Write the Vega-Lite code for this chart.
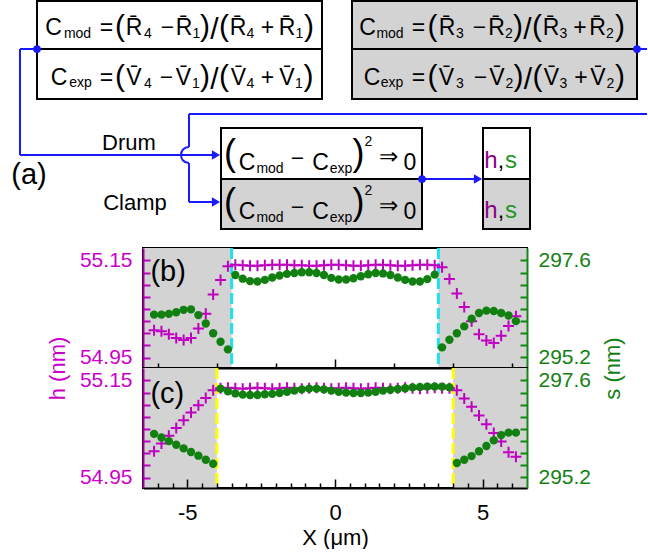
{
"$schema": "https://vega.github.io/schema/vega-lite/v6.json",
"padding": 0,
"background": "white",
"spacing": 0,
"bounds": "flush",
"datasets": {
"canvas": [{"x": 0, "x2": 648, "y": 0, "y2": 248}],
"boxes": [
{"x": 37, "x2": 322, "y": 1, "y2": 49, "medium": "Drum"},
{"x": 37, "x2": 322, "y": 49, "y2": 99, "medium": "Drum"},
{"x": 352, "x2": 637, "y": 1, "y2": 49, "medium": "Clamp"},
{"x": 352, "x2": 637, "y": 49, "y2": 99, "medium": "Clamp"},
{"x": 221, "x2": 422, "y": 128, "y2": 179, "medium": "Drum"},
{"x": 221, "x2": 422, "y": 179, "y2": 229, "medium": "Clamp"},
{"x": 483, "x2": 530, "y": 128, "y2": 179, "medium": "Drum"},
{"x": 483, "x2": 530, "y": 179, "y2": 229, "medium": "Clamp"}
],
"wires": [
{"x": 37, "y": 49, "x2": 20, "y2": 49},
{"x": 20, "y": 49, "x2": 20, "y2": 155},
{"x": 20, "y": 155, "x2": 214, "y2": 155},
{"x": 189, "y": 114, "x2": 189, "y2": 147},
{"x": 189, "y": 163, "x2": 189, "y2": 202},
{"x": 189, "y": 202, "x2": 214, "y2": 202},
{"x": 189, "y": 114, "x2": 647, "y2": 114},
{"x": 637, "y": 49, "x2": 647, "y2": 49},
{"x": 422, "y": 179, "x2": 476, "y2": 179}
],
"hops": [{"x": 189, "y": 155}],
"arrows": [{"x": 216, "y": 155}, {"x": 216, "y": 202}, {"x": 478, "y": 179}],
"joints": [{"x": 37, "y": 49}, {"x": 637, "y": 49}, {"x": 422, "y": 179}],
"tokens": [
{"role": "main", "x": 53.5, "y": 35, "t": "C"},
{"role": "sub", "x": 77.5, "y": 38, "t": "mod"},
{"role": "main", "x": 106.5, "y": 35, "t": "="},
{"role": "paren", "x": 120, "y": 36, "t": "("},
{"role": "main", "x": 134, "y": 35, "t": "R\u0304"},
{"role": "sub", "x": 148, "y": 38, "t": "4"},
{"role": "main", "x": 167.5, "y": 35, "t": "\u2212"},
{"role": "main", "x": 184, "y": 35, "t": "R\u0304"},
{"role": "sub", "x": 196.5, "y": 38, "t": "1"},
{"role": "paren", "x": 205, "y": 36, "t": ")"},
{"role": "slash", "x": 214.5, "y": 39, "t": "/"},
{"role": "paren", "x": 224, "y": 36, "t": "("},
{"role": "main", "x": 238, "y": 35, "t": "R\u0304"},
{"role": "sub", "x": 250.5, "y": 38, "t": "4"},
{"role": "main", "x": 267.5, "y": 35, "t": "+"},
{"role": "main", "x": 287, "y": 35, "t": "R\u0304"},
{"role": "sub", "x": 299.5, "y": 38, "t": "1"},
{"role": "paren", "x": 309, "y": 36, "t": ")"},
{"role": "main", "x": 59, "y": 85, "t": "C"},
{"role": "sub", "x": 80.5, "y": 87, "t": "exp"},
{"role": "main", "x": 106.5, "y": 85, "t": "="},
{"role": "paren", "x": 120, "y": 86, "t": "("},
{"role": "main", "x": 134, "y": 85, "t": "V\u0304"},
{"role": "sub", "x": 148, "y": 88, "t": "4"},
{"role": "main", "x": 166.5, "y": 85, "t": "\u2212"},
{"role": "main", "x": 183.5, "y": 85, "t": "V\u0304"},
{"role": "sub", "x": 196, "y": 88, "t": "1"},
{"role": "paren", "x": 205, "y": 86, "t": ")"},
{"role": "slash", "x": 214.5, "y": 89, "t": "/"},
{"role": "paren", "x": 224, "y": 86, "t": "("},
{"role": "main", "x": 238.5, "y": 85, "t": "V\u0304"},
{"role": "sub", "x": 250.5, "y": 88, "t": "4"},
{"role": "main", "x": 267.5, "y": 85, "t": "+"},
{"role": "main", "x": 287, "y": 85, "t": "V\u0304"},
{"role": "sub", "x": 299, "y": 88, "t": "1"},
{"role": "paren", "x": 308.5, "y": 86, "t": ")"},
{"role": "main", "x": 367.5, "y": 35, "t": "C"},
{"role": "sub", "x": 390, "y": 38, "t": "mod"},
{"role": "main", "x": 418.5, "y": 35, "t": "="},
{"role": "paren", "x": 432.5, "y": 36, "t": "("},
{"role": "main", "x": 447, "y": 35, "t": "R\u0304"},
{"role": "sub", "x": 460, "y": 38, "t": "3"},
{"role": "main", "x": 479.5, "y": 35, "t": "\u2212"},
{"role": "main", "x": 496.5, "y": 35, "t": "R\u0304"},
{"role": "sub", "x": 509, "y": 38, "t": "2"},
{"role": "paren", "x": 518, "y": 36, "t": ")"},
{"role": "slash", "x": 527.5, "y": 39, "t": "/"},
{"role": "paren", "x": 537, "y": 36, "t": "("},
{"role": "main", "x": 551, "y": 35, "t": "R\u0304"},
{"role": "sub", "x": 563.5, "y": 38, "t": "3"},
{"role": "main", "x": 580, "y": 35, "t": "+"},
{"role": "main", "x": 597.5, "y": 35, "t": "R\u0304"},
{"role": "sub", "x": 610, "y": 38, "t": "2"},
{"role": "paren", "x": 620, "y": 36, "t": ")"},
{"role": "main", "x": 372, "y": 85, "t": "C"},
{"role": "sub", "x": 392, "y": 87, "t": "exp"},
{"role": "main", "x": 418.5, "y": 85, "t": "="},
{"role": "paren", "x": 432.5, "y": 86, "t": "("},
{"role": "main", "x": 446.5, "y": 85, "t": "V\u0304"},
{"role": "sub", "x": 460, "y": 88, "t": "3"},
{"role": "main", "x": 480.5, "y": 85, "t": "\u2212"},
{"role": "main", "x": 497, "y": 85, "t": "V\u0304"},
{"role": "sub", "x": 509.5, "y": 88, "t": "2"},
{"role": "paren", "x": 518.5, "y": 86, "t": ")"},
{"role": "slash", "x": 528, "y": 89, "t": "/"},
{"role": "paren", "x": 537.5, "y": 86, "t": "("},
{"role": "main", "x": 551.5, "y": 85, "t": "V\u0304"},
{"role": "sub", "x": 563.5, "y": 88, "t": "3"},
{"role": "main", "x": 581, "y": 85, "t": "+"},
{"role": "main", "x": 598, "y": 85, "t": "V\u0304"},
{"role": "sub", "x": 610.5, "y": 88, "t": "2"},
{"role": "paren", "x": 620, "y": 86, "t": ")"},
{"role": "bigparen", "x": 230, "y": 165, "t": "("},
{"role": "main", "x": 247, "y": 170, "t": "C"},
{"role": "sub", "x": 270, "y": 173, "t": "mod"},
{"role": "main", "x": 297.5, "y": 166, "t": "\u2212"},
{"role": "main", "x": 320.5, "y": 170, "t": "C"},
{"role": "sub", "x": 341, "y": 173, "t": "exp"},
{"role": "bigparen", "x": 358.5, "y": 165, "t": ")"},
{"role": "sub", "x": 368.5, "y": 146, "t": "2"},
{"role": "main", "x": 388, "y": 164, "t": "\u21d2"},
{"role": "main", "x": 410, "y": 170, "t": "0"},
{"role": "bigparen", "x": 230, "y": 214, "t": "("},
{"role": "main", "x": 247, "y": 219, "t": "C"},
{"role": "sub", "x": 270, "y": 222, "t": "mod"},
{"role": "main", "x": 297.5, "y": 215, "t": "\u2212"},
{"role": "main", "x": 320.5, "y": 219, "t": "C"},
{"role": "sub", "x": 341, "y": 222, "t": "exp"},
{"role": "bigparen", "x": 358.5, "y": 214, "t": ")"},
{"role": "sub", "x": 368.5, "y": 195, "t": "2"},
{"role": "main", "x": 388, "y": 213, "t": "\u21d2"},
{"role": "main", "x": 410, "y": 219, "t": "0"},
{"role": "h", "x": 491, "y": 168, "t": "h"},
{"role": "main", "x": 501, "y": 168, "t": ","},
{"role": "s", "x": 511, "y": 168, "t": "s"},
{"role": "h", "x": 491, "y": 218, "t": "h"},
{"role": "main", "x": 501, "y": 218, "t": ","},
{"role": "s", "x": 511, "y": 218, "t": "s"},
{"role": "label", "x": 129, "y": 150, "t": "Drum"},
{"role": "label", "x": 135, "y": 210, "t": "Clamp"},
{"role": "panel", "x": 29, "y": 184, "t": "(a)"}
],
"shadeB": [{"x1": -6.5, "x2": -3.5}, {"x1": 3.5, "x2": 6.5}],
"shadeC": [{"x1": -6.5, "x2": -4}, {"x1": 4, "x2": 6.5}],
"edgesB": [{"x": -3.5}, {"x": 3.5}],
"edgesC": [{"x": -4}, {"x": 4}],
"tagB": [{"X": -6.25, "h": 55.126, "label": "(b)"}],
"tagC": [{"X": -6.25, "h": 55.123, "label": "(c)"}],
"panelB": [
{"X": -6.125, "h": 55.006, "s": 296.26},
{"X": -5.875, "h": 55.004, "s": 296.26},
{"X": -5.625, "h": 54.998, "s": 296.28},
{"X": -5.375, "h": 54.990, "s": 296.32},
{"X": -5.125, "h": 54.986, "s": 296.38},
{"X": -4.875, "h": 54.990, "s": 296.39},
{"X": -4.625, "h": 55.010, "s": 296.25},
{"X": -4.375, "h": 55.040, "s": 296.04},
{"X": -4.125, "h": 55.080, "s": 295.80},
{"X": -3.875, "h": 55.110, "s": 295.59},
{"X": -3.625, "h": 55.138, "s": 295.40},
{"X": -3.375, "h": 55.141, "s": 297.24},
{"X": -3.125, "h": 55.140, "s": 297.15},
{"X": -2.875, "h": 55.139, "s": 297.09},
{"X": -2.625, "h": 55.139, "s": 297.08},
{"X": -2.375, "h": 55.140, "s": 297.12},
{"X": -2.125, "h": 55.141, "s": 297.18},
{"X": -1.875, "h": 55.141, "s": 297.23},
{"X": -1.625, "h": 55.141, "s": 297.27},
{"X": -1.375, "h": 55.140, "s": 297.29},
{"X": -1.125, "h": 55.140, "s": 297.31},
{"X": -0.875, "h": 55.139, "s": 297.31},
{"X": -0.625, "h": 55.139, "s": 297.29},
{"X": -0.375, "h": 55.140, "s": 297.24},
{"X": -0.125, "h": 55.141, "s": 297.17},
{"X": 0.125, "h": 55.141, "s": 297.13},
{"X": 0.375, "h": 55.140, "s": 297.13},
{"X": 0.625, "h": 55.139, "s": 297.16},
{"X": 0.875, "h": 55.139, "s": 297.21},
{"X": 1.125, "h": 55.140, "s": 297.26},
{"X": 1.375, "h": 55.141, "s": 297.29},
{"X": 1.625, "h": 55.141, "s": 297.28},
{"X": 1.875, "h": 55.140, "s": 297.24},
{"X": 2.125, "h": 55.139, "s": 297.18},
{"X": 2.375, "h": 55.139, "s": 297.12},
{"X": 2.625, "h": 55.140, "s": 297.08},
{"X": 2.875, "h": 55.141, "s": 297.08},
{"X": 3.125, "h": 55.141, "s": 297.14},
{"X": 3.375, "h": 55.140, "s": 297.25},
{"X": 3.625, "h": 55.136, "s": 295.45},
{"X": 3.875, "h": 55.112, "s": 295.64},
{"X": 4.125, "h": 55.082, "s": 295.80},
{"X": 4.375, "h": 55.054, "s": 295.97},
{"X": 4.625, "h": 55.025, "s": 296.16},
{"X": 4.875, "h": 54.998, "s": 296.30},
{"X": 5.125, "h": 54.985, "s": 296.36},
{"X": 5.375, "h": 54.980, "s": 296.35},
{"X": 5.625, "h": 54.995, "s": 296.30},
{"X": 5.875, "h": 55.015, "s": 296.24},
{"X": 6.125, "h": 55.035, "s": 296.10}
],
"panelC": [
{"X": -6.125, "h": 55.004, "s": 296.28},
{"X": -5.875, "h": 55.020, "s": 296.19},
{"X": -5.625, "h": 55.036, "s": 296.10},
{"X": -5.375, "h": 55.052, "s": 296.01},
{"X": -5.125, "h": 55.068, "s": 295.92},
{"X": -4.875, "h": 55.084, "s": 295.83},
{"X": -4.625, "h": 55.099, "s": 295.74},
{"X": -4.375, "h": 55.114, "s": 295.64},
{"X": -4.125, "h": 55.130, "s": 295.54},
{"X": -3.875, "h": 55.134, "s": 297.40},
{"X": -3.625, "h": 55.135, "s": 297.33},
{"X": -3.375, "h": 55.134, "s": 297.28},
{"X": -3.125, "h": 55.133, "s": 297.25},
{"X": -2.875, "h": 55.134, "s": 297.24},
{"X": -2.625, "h": 55.135, "s": 297.24},
{"X": -2.375, "h": 55.134, "s": 297.26},
{"X": -2.125, "h": 55.133, "s": 297.27},
{"X": -1.875, "h": 55.134, "s": 297.29},
{"X": -1.625, "h": 55.135, "s": 297.32},
{"X": -1.375, "h": 55.134, "s": 297.35},
{"X": -1.125, "h": 55.133, "s": 297.38},
{"X": -0.875, "h": 55.134, "s": 297.40},
{"X": -0.625, "h": 55.135, "s": 297.40},
{"X": -0.375, "h": 55.134, "s": 297.38},
{"X": -0.125, "h": 55.133, "s": 297.35},
{"X": 0.125, "h": 55.134, "s": 297.32},
{"X": 0.375, "h": 55.135, "s": 297.30},
{"X": 0.625, "h": 55.134, "s": 297.29},
{"X": 0.875, "h": 55.133, "s": 297.29},
{"X": 1.125, "h": 55.134, "s": 297.30},
{"X": 1.375, "h": 55.135, "s": 297.32},
{"X": 1.625, "h": 55.134, "s": 297.35},
{"X": 1.875, "h": 55.133, "s": 297.37},
{"X": 2.125, "h": 55.134, "s": 297.39},
{"X": 2.375, "h": 55.135, "s": 297.41},
{"X": 2.625, "h": 55.134, "s": 297.43},
{"X": 2.875, "h": 55.133, "s": 297.44},
{"X": 3.125, "h": 55.134, "s": 297.45},
{"X": 3.375, "h": 55.135, "s": 297.45},
{"X": 3.625, "h": 55.134, "s": 297.45},
{"X": 3.875, "h": 55.134, "s": 297.43},
{"X": 4.125, "h": 55.130, "s": 295.56},
{"X": 4.375, "h": 55.113, "s": 295.64},
{"X": 4.625, "h": 55.096, "s": 295.73},
{"X": 4.875, "h": 55.078, "s": 295.85},
{"X": 5.125, "h": 55.060, "s": 295.98},
{"X": 5.375, "h": 55.042, "s": 296.12},
{"X": 5.625, "h": 55.024, "s": 296.25},
{"X": 5.875, "h": 55.002, "s": 296.31},
{"X": 6.125, "h": 54.993, "s": 296.31}
]
},
"vconcat": [
{
"width": 384, "height": 248,
"view": {"stroke": null},
"encoding": {
"x": {"field": "x", "type": "quantitative", "scale": {"domain": [143, 527], "nice": false, "zero": false}, "axis": null},
"y": {"field": "y", "type": "quantitative", "scale": {"domain": [0, 248], "reverse": true, "nice": false, "zero": false}, "axis": null}
},
"layer": [
{"data": {"name": "canvas"}, "mark": {"type": "rect", "fill": "white", "strokeWidth": 0}, "encoding": {"x2": {"field": "x2"}, "y2": {"field": "y2"}}},
{"data": {"name": "boxes"}, "mark": {"type": "rect", "stroke": "black", "strokeWidth": 2}, "encoding": {"x2": {"field": "x2"}, "y2": {"field": "y2"}, "fill": {"field": "medium", "type": "nominal", "scale": {"domain": ["Drum", "Clamp"], "range": ["white", "#d3d3d3"]}, "legend": null}}},
{"data": {"name": "wires"}, "mark": {"type": "rule", "color": "#1a1aff", "strokeWidth": 2}, "encoding": {"x2": {"field": "x2"}, "y2": {"field": "y2"}}},
{"data": {"name": "hops"}, "mark": {"type": "point", "shape": "M0,-1C-1.33,-1,-1.33,1,0,1", "filled": false, "stroke": "#1a1aff", "strokeWidth": 2, "size": 256, "opacity": 1}},
{"data": {"name": "arrows"}, "mark": {"type": "point", "shape": "triangle-right", "filled": true, "color": "#1a1aff", "size": 90, "opacity": 1}},
{"data": {"name": "joints"}, "mark": {"type": "circle", "color": "#1a1aff", "size": 60, "opacity": 1}},
{"data": {"name": "tokens"}, "transform": [{"filter": "datum.role === 'main'"}], "mark": {"type": "text", "font": "Liberation Sans", "fontSize": 23, "align": "center", "baseline": "alphabetic", "color": "black"}, "encoding": {"text": {"field": "t"}}},
{"data": {"name": "tokens"}, "transform": [{"filter": "datum.role === 'sub'"}], "mark": {"type": "text", "font": "Liberation Sans", "fontSize": 14, "align": "center", "baseline": "alphabetic", "color": "black"}, "encoding": {"text": {"field": "t"}}},
{"data": {"name": "tokens"}, "transform": [{"filter": "datum.role === 'paren'"}], "mark": {"type": "text", "font": "Liberation Sans", "fontSize": 30, "align": "center", "baseline": "alphabetic", "color": "black"}, "encoding": {"text": {"field": "t"}}},
{"data": {"name": "tokens"}, "transform": [{"filter": "datum.role === 'bigparen'"}], "mark": {"type": "text", "font": "Liberation Sans", "fontSize": 36, "align": "center", "baseline": "alphabetic", "color": "black"}, "encoding": {"text": {"field": "t"}}},
{"data": {"name": "tokens"}, "transform": [{"filter": "datum.role === 'slash'"}], "mark": {"type": "text", "font": "Liberation Sans", "fontSize": 30, "align": "center", "baseline": "alphabetic", "color": "black"}, "encoding": {"text": {"field": "t"}}},
{"data": {"name": "tokens"}, "transform": [{"filter": "datum.role === 'h'"}], "mark": {"type": "text", "font": "Liberation Sans", "fontSize": 24, "align": "center", "baseline": "alphabetic", "color": "#8b008b"}, "encoding": {"text": {"field": "t"}}},
{"data": {"name": "tokens"}, "transform": [{"filter": "datum.role === 's'"}], "mark": {"type": "text", "font": "Liberation Sans", "fontSize": 24, "align": "center", "baseline": "alphabetic", "color": "#1e961e"}, "encoding": {"text": {"field": "t"}}},
{"data": {"name": "tokens"}, "transform": [{"filter": "datum.role === 'label'"}], "mark": {"type": "text", "font": "Liberation Sans", "fontSize": 22, "align": "center", "baseline": "alphabetic", "color": "black"}, "encoding": {"text": {"field": "t"}}},
{"data": {"name": "tokens"}, "transform": [{"filter": "datum.role === 'panel'"}], "mark": {"type": "text", "font": "Liberation Sans", "fontSize": 29, "align": "center", "baseline": "alphabetic", "color": "black"}, "encoding": {"text": {"field": "t"}}}
]
},
{
"width": 384, "height": 120,
"layer": [
{"data": {"name": "shadeB"}, "mark": {"type": "rect", "color": "#d3d3d3"}, "encoding": {
"x": {"field": "x1", "type": "quantitative", "scale": {"domain": [-6.5, 6.5], "nice": false, "zero": false},
"axis": {"orient": "bottom", "zindex": 2, "values": [-6, -5.5, -5, -4.5, -4, -3.5, -3, -2.5, -2, -1.5, -1, -0.5, 0, 0.5, 1, 1.5, 2, 2.5, 3, 3.5, 4, 4.5, 5, 5.5, 6], "labels": false, "title": null, "tickSize": {"condition": {"test": "datum.value % 5 === 0", "value": -9}, "value": -5}, "tickColor": "black", "tickWidth": 1.5, "domainColor": "black", "domainWidth": 2, "grid": false}},
"x2": {"field": "x2"}}},
{"data": {"name": "edgesB"}, "mark": {"type": "rule", "color": "#20e0f0", "strokeWidth": 3, "strokeDash": [11, 4]}, "encoding": {"x": {"field": "x", "type": "quantitative"}}},
{"data": {"name": "panelB"}, "mark": {"type": "point", "shape": "M-1,0H1M0,-1V1", "filled": false, "stroke": "#c000c0", "strokeWidth": 2, "size": 121, "opacity": 1}, "encoding": {
"x": {"field": "X", "type": "quantitative"},
"y": {"field": "h", "type": "quantitative", "scale": {"domain": [54.928351, 55.175773], "nice": false, "zero": false},
"axis": {"orient": "left", "zindex": 2, "values": [54.95, 54.975, 55, 55.025, 55.05, 55.075, 55.1, 55.125, 55.15], "labelExpr": "abs(datum.value-55.15)<0.001 || abs(datum.value-54.95)<0.001 ? format(datum.value, '.2f') : ''", "labelOverlap": false, "tickSize": -7, "tickColor": "#c000c0", "tickWidth": 2, "domainColor": "#a000a0", "domainWidth": 2, "labelColor": "#cc00cc", "labelFontSize": 21, "labelPadding": 18, "title": "h (nm)", "titleColor": "#cc00cc", "titleFontSize": 22, "titleX": -86, "titleY": 120, "titleAngle": -90, "titleAlign": "center", "titleBaseline": "middle", "grid": false}}}},
{"data": {"name": "panelB"}, "mark": {"type": "circle", "color": "#118011", "size": 70, "opacity": 1}, "encoding": {
"x": {"field": "X", "type": "quantitative"},
"y": {"field": "s", "type": "quantitative", "scale": {"domain": [294.940206, 297.909278], "nice": false, "zero": false},
"axis": {"orient": "right", "zindex": 2, "values": [295.2, 295.5, 295.8, 296.1, 296.4, 296.7, 297.0, 297.3, 297.6], "labelExpr": "abs(datum.value-297.6)<0.01 || abs(datum.value-295.2)<0.01 ? format(datum.value, '.1f') : ''", "labelOverlap": false, "tickSize": -7, "tickColor": "#118811", "tickWidth": 2, "domainColor": "#118811", "domainWidth": 2, "labelColor": "#148014", "labelFontSize": 21, "labelPadding": 18, "title": "s (nm)", "titleColor": "#148014", "titleFontSize": 22, "titleX": 85, "titleY": 120, "titleAngle": -90, "titleAlign": "center", "titleBaseline": "middle", "grid": false}}}},
{"data": {"name": "tagB"}, "mark": {"type": "text", "fontSize": 29, "align": "left", "baseline": "middle", "color": "black"}, "encoding": {
"x": {"field": "X", "type": "quantitative"},
"y": {"field": "h", "type": "quantitative", "scale": {"domain": [54.928351, 55.175773], "nice": false, "zero": false}, "axis": null},
"text": {"field": "label"}}}
],
"resolve": {"scale": {"y": "independent"}}
},
{
"width": 384, "height": 120,
"layer": [
{"data": {"name": "shadeC"}, "mark": {"type": "rect", "color": "#d3d3d3"}, "encoding": {
"x": {"field": "x1", "type": "quantitative", "scale": {"domain": [-6.5, 6.5], "nice": false, "zero": false},
"axis": {"orient": "bottom", "zindex": 2, "values": [-5, 0, 5], "labelExpr": "datum.value < 0 ? '-' + abs(datum.value) : '' + datum.value", "labelFlush": false, "labelFontSize": 22, "labelColor": "black", "labelPadding": 23, "title": "X (\u03bcm)", "titleFontSize": 22, "titleColor": "black", "titlePadding": 4, "tickSize": -9, "tickColor": "black", "tickWidth": 1.5, "domainColor": "black", "domainWidth": 2, "grid": false}},
"x2": {"field": "x2"}}},
{"data": {"name": "edgesC"}, "mark": {"type": "rule", "color": "#ffff00", "strokeWidth": 3, "strokeDash": [11, 4]}, "encoding": {"x": {"field": "x", "type": "quantitative"}}},
{"data": {"name": "panelC"}, "mark": {"type": "point", "shape": "M-1,0H1M0,-1V1", "filled": false, "stroke": "#c000c0", "strokeWidth": 2, "size": 121, "opacity": 1}, "encoding": {
"x": {"field": "X", "type": "quantitative"},
"y": {"field": "h", "type": "quantitative", "scale": {"domain": [54.928351, 55.175773], "nice": false, "zero": false},
"axis": {"orient": "left", "zindex": 2, "values": [54.95, 54.975, 55, 55.025, 55.05, 55.075, 55.1, 55.125, 55.15], "labelExpr": "abs(datum.value-55.15)<0.001 || abs(datum.value-54.95)<0.001 ? format(datum.value, '.2f') : ''", "labelOverlap": false, "tickSize": -7, "tickColor": "#c000c0", "tickWidth": 2, "domainColor": "#a000a0", "domainWidth": 2, "labelColor": "#cc00cc", "labelFontSize": 21, "labelPadding": 18, "title": null, "grid": false}}}},
{"data": {"name": "panelC"}, "mark": {"type": "circle", "color": "#118011", "size": 70, "opacity": 1}, "encoding": {
"x": {"field": "X", "type": "quantitative"},
"y": {"field": "s", "type": "quantitative", "scale": {"domain": [294.940206, 297.909278], "nice": false, "zero": false},
"axis": {"orient": "right", "zindex": 2, "values": [295.2, 295.5, 295.8, 296.1, 296.4, 296.7, 297.0, 297.3, 297.6], "labelExpr": "abs(datum.value-297.6)<0.01 || abs(datum.value-295.2)<0.01 ? format(datum.value, '.1f') : ''", "labelOverlap": false, "tickSize": -7, "tickColor": "#118811", "tickWidth": 2, "domainColor": "#118811", "domainWidth": 2, "labelColor": "#148014", "labelFontSize": 21, "labelPadding": 18, "title": null, "grid": false}}}},
{"data": {"name": "tagC"}, "mark": {"type": "text", "fontSize": 29, "align": "left", "baseline": "middle", "color": "black"}, "encoding": {
"x": {"field": "X", "type": "quantitative"},
"y": {"field": "h", "type": "quantitative", "scale": {"domain": [54.928351, 55.175773], "nice": false, "zero": false}, "axis": null},
"text": {"field": "label"}}}
],
"resolve": {"scale": {"y": "independent"}}
},
{
"width": 384, "height": 1,
"view": {"stroke": null},
"data": {"name": "edgesC"},
"mark": {"type": "rule", "opacity": 0},
"encoding": {
"x": {"field": "x", "type": "quantitative", "scale": {"domain": [-6.5, 6.5], "nice": false, "zero": false},
"axis": {"orient": "top", "zindex": 2, "values": [-6, -5.5, -4.5, -4, -3.5, -3, -2.5, -2, -1.5, -1, -0.5, 0.5, 1, 1.5, 2, 2.5, 3, 3.5, 4, 4.5, 5.5, 6], "labels": false, "title": null, "domain": false, "tickSize": 5, "tickColor": "black", "tickWidth": 1.5, "grid": false}}
}
}
],
"config": {
"view": {"stroke": "black", "strokeWidth": 2},
"font": "Liberation Sans",
"text": {"font": "Liberation Sans"},
"axis": {"grid": false, "labelFont": "Liberation Sans", "titleFont": "Liberation Sans", "titleFontWeight": "normal"}
}
}
